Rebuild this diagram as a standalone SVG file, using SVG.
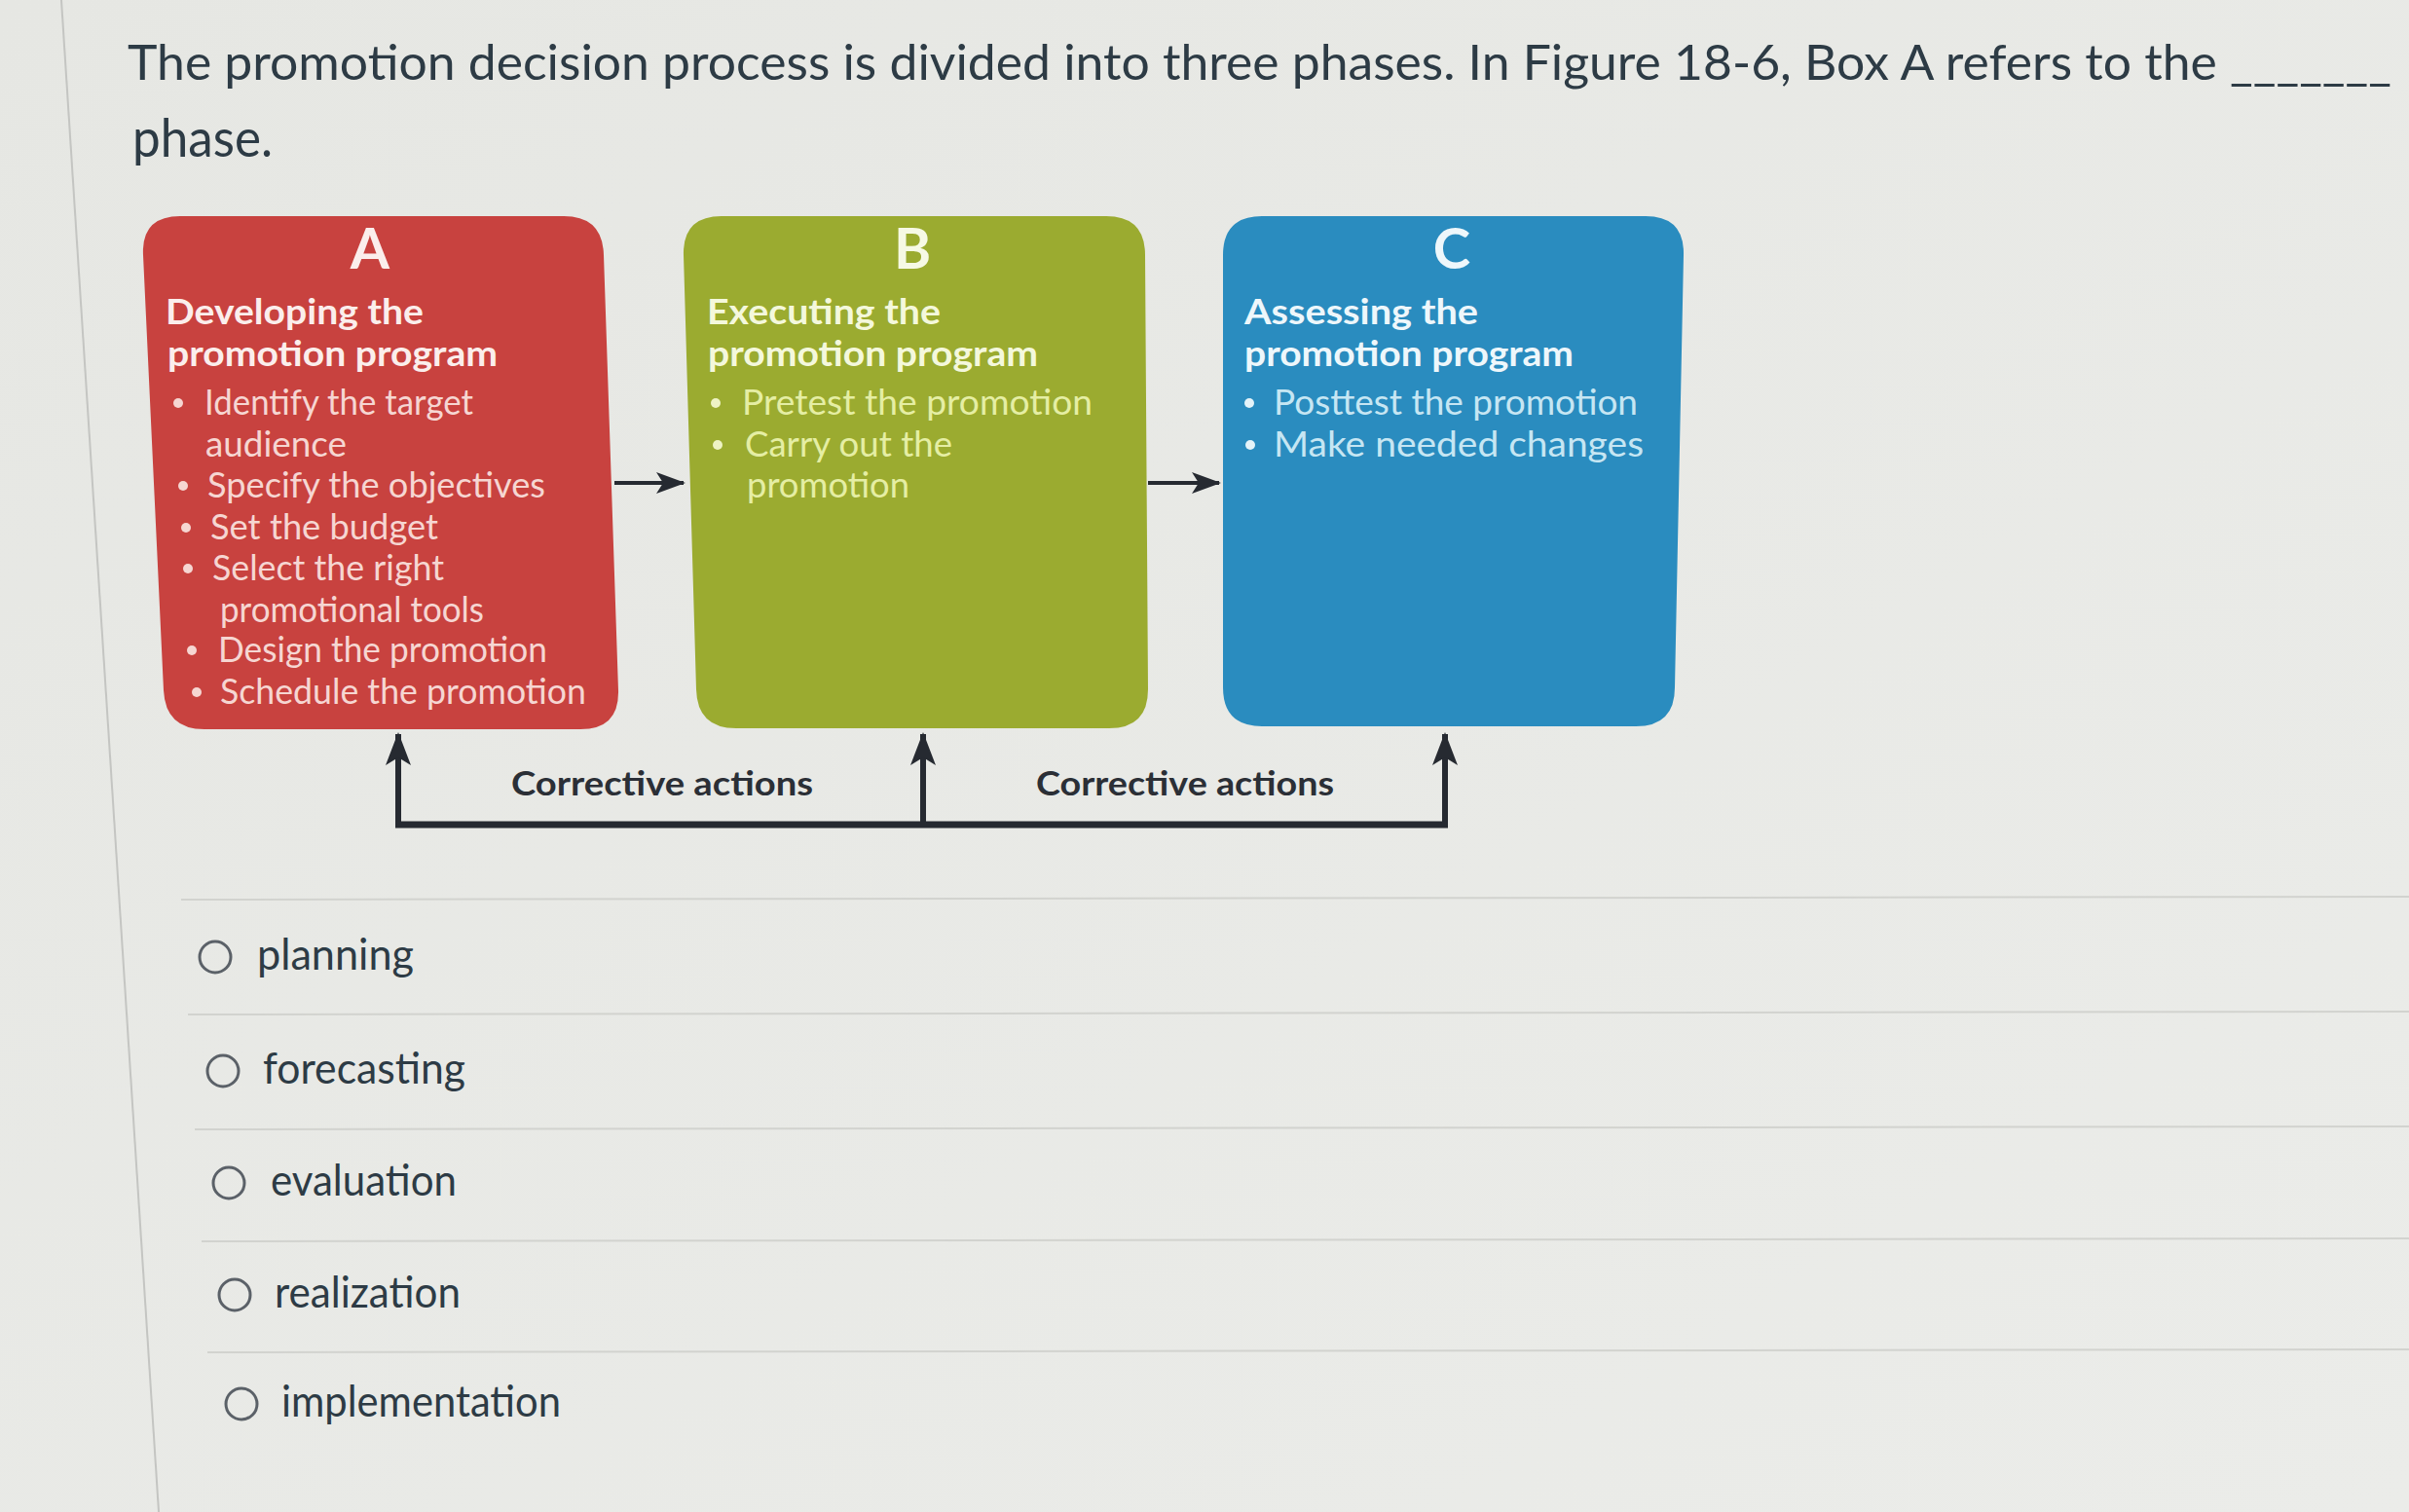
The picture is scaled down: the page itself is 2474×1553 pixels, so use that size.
<svg xmlns="http://www.w3.org/2000/svg" width="2474" height="1553" viewBox="0 0 2474 1553">
<defs>
<linearGradient id="bg" x1="0" y1="0" x2="1" y2="1">
<stop offset="0" stop-color="#e6e7e3"/>
<stop offset="1" stop-color="#ebece9"/>
</linearGradient>
<marker id="ah" markerUnits="userSpaceOnUse" markerWidth="34" markerHeight="26" viewBox="0 0 34 26" refX="32" refY="13" orient="auto">
<path d="M0,0 L34,13 L0,26 L8,13 z" fill="#262a31"/>
</marker>
<marker id="ahs" markerUnits="userSpaceOnUse" markerWidth="30" markerHeight="22" viewBox="0 0 30 22" refX="28" refY="11" orient="auto">
<path d="M0,0 L30,11 L0,22 L7,11 z" fill="#262a31"/>
</marker>
</defs>
<style>
.q{font-family:Lato,"Liberation Sans",sans-serif;fill:#2d3b45}
.t{font-family:Lato,"Liberation Sans",sans-serif;font-size:55px}
.t1{font-family:Lato,"Liberation Sans",sans-serif;font-size:50px}
.opt{font-family:Lato,"Liberation Sans",sans-serif;font-size:44px;fill:#2d3b45}
.let{font-family:Lato,"Liberation Sans",sans-serif;font-weight:bold;font-size:58px;text-anchor:middle}
.hd{font-family:Lato,"Liberation Sans",sans-serif;font-weight:bold;font-size:36px}
.bl{font-family:Lato,"Liberation Sans",sans-serif;font-size:36px}
.ca{font-family:Lato,"Liberation Sans",sans-serif;font-weight:bold;font-size:35px;fill:#2b2f36}
.sep{stroke:#d2d3cf;stroke-width:2;fill:none}
.radio{fill:none;stroke:#5b6168;stroke-width:3}
.conn{stroke:#262a31;fill:none}
</style>
<rect x="0" y="0" width="2474" height="1553" fill="url(#bg)"/>
<line x1="63" y1="0" x2="163" y2="1553" stroke="#c4c5c2" stroke-width="2"/>

<g id="question">
<text class="q t1" x="131" y="82" textLength="2325" lengthAdjust="spacingAndGlyphs">The promotion decision process is divided into three phases. In Figure 18-6, Box A refers to the _______</text>
<text class="q t" x="136" y="161" textLength="144" lengthAdjust="spacingAndGlyphs">phase.</text>
</g>

<g id="boxA">
<path d="M185,222 H579 Q619,222 620,262 L635,709 Q636,749 596,749 H210 Q170,749 168,709 L147,262 Q145,222 185,222 Z" fill="#c8423f"/>
<text class="let" x="380" y="276" fill="#fbeeec">A</text>
<text class="hd" x="170" y="333" fill="#fbeeec" textLength="265" lengthAdjust="spacingAndGlyphs">Developing the</text>
<text class="hd" x="172" y="376" fill="#fbeeec" textLength="339" lengthAdjust="spacingAndGlyphs">promotion program</text>
<g fill="#f6d6d2">
<circle cx="183" cy="414" r="5"/>
<circle cx="188" cy="499" r="5"/>
<circle cx="191" cy="542" r="5"/>
<circle cx="193" cy="584" r="5"/>
<circle cx="197" cy="668" r="5"/>
<circle cx="202" cy="711" r="5"/>
</g>
<g class="bl" fill="#f6d6d2">
<text x="210" y="426" textLength="276" lengthAdjust="spacingAndGlyphs">Identify the target</text>
<text x="211" y="469" textLength="145" lengthAdjust="spacingAndGlyphs">audience</text>
<text x="213" y="511" textLength="347" lengthAdjust="spacingAndGlyphs">Specify the objectives</text>
<text x="216" y="554" textLength="234" lengthAdjust="spacingAndGlyphs">Set the budget</text>
<text x="218" y="596" textLength="238" lengthAdjust="spacingAndGlyphs">Select the right</text>
<text x="226" y="639" textLength="271" lengthAdjust="spacingAndGlyphs">promotional tools</text>
<text x="224" y="680" textLength="338" lengthAdjust="spacingAndGlyphs">Design the promotion</text>
<text x="226" y="723" textLength="376" lengthAdjust="spacingAndGlyphs">Schedule the promotion</text>
</g>
</g>

<g id="boxB">
<path d="M741,222 H1136 Q1176,222 1176,262 L1179,708 Q1179,748 1139,748 H756 Q716,748 715,708 L702,262 Q701,222 741,222 Z" fill="#9bab30"/>
<text class="let" x="937" y="276" fill="#f6f9e4">B</text>
<text class="hd" x="726" y="333" fill="#f4f8dc" textLength="240" lengthAdjust="spacingAndGlyphs">Executing the</text>
<text class="hd" x="727" y="376" fill="#f4f8dc" textLength="339" lengthAdjust="spacingAndGlyphs">promotion program</text>
<g fill="#eef3c4">
<circle cx="735" cy="414" r="5"/>
<circle cx="737" cy="457" r="5"/>
</g>
<g class="bl" fill="#e5eea4">
<text x="762" y="426" textLength="360" lengthAdjust="spacingAndGlyphs">Pretest the promotion</text>
<text x="765" y="469" textLength="213" lengthAdjust="spacingAndGlyphs">Carry out the</text>
<text x="767" y="511" textLength="167" lengthAdjust="spacingAndGlyphs">promotion</text>
</g>
</g>

<g id="boxC">
<path d="M1296,222 H1690 Q1730,222 1729,262 L1720,706 Q1720,746 1680,746 H1296 Q1256,746 1256,706 V262 Q1256,222 1296,222 Z" fill="#2a8cbf"/>
<text class="let" x="1491" y="276" fill="#eef7fb">C</text>
<text class="hd" x="1278" y="333" fill="#eef7fb" textLength="240" lengthAdjust="spacingAndGlyphs">Assessing the</text>
<text class="hd" x="1278" y="376" fill="#eef7fb" textLength="338" lengthAdjust="spacingAndGlyphs">promotion program</text>
<g fill="#e4f3f9">
<circle cx="1283" cy="414" r="5"/>
<circle cx="1284" cy="457" r="5"/>
</g>
<g class="bl" fill="#c6e6f3">
<text x="1308" y="426" textLength="374" lengthAdjust="spacingAndGlyphs">Posttest the promotion</text>
<text x="1308" y="469" textLength="380" lengthAdjust="spacingAndGlyphs">Make needed changes</text>
</g>
</g>

<g id="connectors">
<path class="conn" d="M631,496 H702" stroke-width="4" marker-end="url(#ahs)"/>
<path class="conn" d="M1179,496 H1252" stroke-width="4" marker-end="url(#ahs)"/>
<path class="conn" d="M406,847 H1487" stroke-width="7"/>
<path class="conn" d="M409,850 V754" stroke-width="6" marker-end="url(#ah)"/>
<path class="conn" d="M948,847 V754" stroke-width="6" marker-end="url(#ah)"/>
<path class="conn" d="M1484,850 V754" stroke-width="6" marker-end="url(#ah)"/>
<text class="ca" x="525" y="817" textLength="310" lengthAdjust="spacingAndGlyphs">Corrective actions</text>
<text class="ca" x="1064" y="817" textLength="306" lengthAdjust="spacingAndGlyphs">Corrective actions</text>
</g>

<g id="options">
<line class="sep" x1="186" y1="924" x2="2474" y2="921"/>
<line class="sep" x1="193" y1="1042" x2="2474" y2="1039"/>
<line class="sep" x1="200" y1="1160" x2="2474" y2="1157"/>
<line class="sep" x1="207" y1="1275" x2="2474" y2="1272"/>
<line class="sep" x1="213" y1="1389" x2="2474" y2="1386"/>
<circle class="radio" cx="221" cy="983" r="16"/>
<text class="opt" x="264" y="996" textLength="161" lengthAdjust="spacingAndGlyphs">planning</text>
<circle class="radio" cx="229" cy="1100" r="16"/>
<text class="opt" x="270" y="1113" textLength="208" lengthAdjust="spacingAndGlyphs">forecasting</text>
<circle class="radio" cx="235" cy="1215" r="16"/>
<text class="opt" x="278" y="1228" textLength="191" lengthAdjust="spacingAndGlyphs">evaluation</text>
<circle class="radio" cx="241" cy="1330" r="16"/>
<text class="opt" x="282" y="1343" textLength="191" lengthAdjust="spacingAndGlyphs">realization</text>
<circle class="radio" cx="248" cy="1442" r="16"/>
<text class="opt" x="289" y="1455" textLength="287" lengthAdjust="spacingAndGlyphs">implementation</text>
</g>
</svg>
